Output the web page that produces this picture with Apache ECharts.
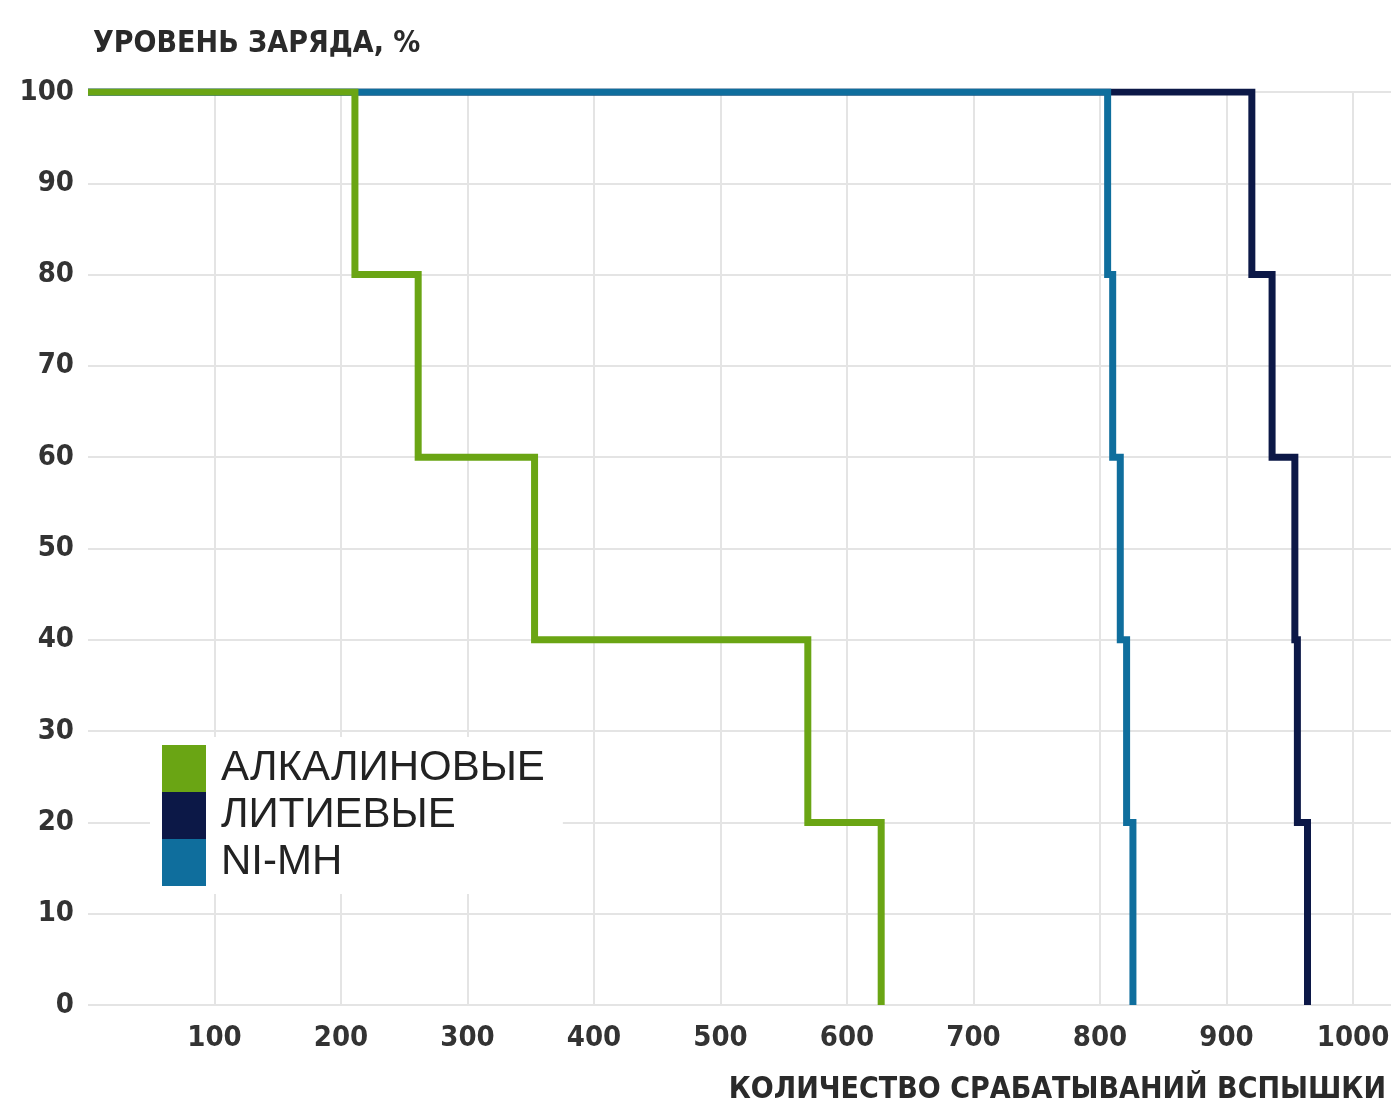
<!DOCTYPE html>
<html>
<head>
<meta charset="utf-8">
<script src="https://cdn.jsdelivr.net/npm/echarts@6/dist/echarts.min.js"></script>
<style>
html,body{margin:0;padding:0;background:#fff;}
#chart{width:1396px;height:1108px;}
</style>
</head>
<body>
<div id="chart"></div>
<script>
// ---- data ----
var seriesNames = ['АЛКАЛИНОВЫЕ', 'ЛИТИЕВЫЕ', 'NI-MH'];
// [flashes at which the level drops, new level]
var alkaline = [[0, 100], [211, 80], [261, 60], [353, 40], [569, 20], [627, 0]];
var lithium  = [[0, 100], [920, 80], [936, 60], [954, 40], [956, 20], [964, 0]];
var nimh     = [[0, 100], [806, 80], [810, 60], [816, 40], [821, 20], [826, 0]];
var xTicks = [100, 200, 300, 400, 500, 600, 700, 800, 900, 1000];
var yTitle = 'УРОВЕНЬ ЗАРЯДА, %';
var xTitle = 'КОЛИЧЕСТВО СРАБАТЫВАНИЙ ВСПЫШКИ';

var colors = {alk: '#6aa514', lit: '#0c1847', nimh: '#0f6e9d'};
var narrow = "'Liberation Sans Narrow', 'DejaVu Sans Condensed', 'Liberation Sans', sans-serif";
var gridColor = '#e4e4e4';

var chart = echarts.init(document.getElementById('chart'));
function lineSeries(name, data, color, z, extra) {
  var s = {
    name: name, type: 'line', data: data, step: 'end',
    showSymbol: false, symbol: 'none', z: z,
    lineStyle: {color: color, width: 7, join: 'miter', cap: 'butt'},
    itemStyle: {color: color},
    emphasis: {disabled: true},
    animation: false
  };
  if (extra) for (var k in extra) s[k] = extra[k];
  return s;
}
chart.setOption({
  animation: false,
  backgroundColor: '#fff',
  title: [{
    text: xTitle, right: 5, top: 1070,
    textStyle: {fontFamily: narrow, fontWeight: 'bold', fontSize: 30, color: '#2a2a2a'}
  }],
  legend: {
    data: seriesNames,
    orient: 'vertical', left: 150, top: 737,
    icon: 'rect', itemWidth: 44, itemHeight: 47, itemGap: 0,
    backgroundColor: '#fff', padding: [8, 18, 8, 12],
    selectedMode: false,
    textStyle: {fontFamily: "'Liberation Sans', Arial, sans-serif", fontSize: 42, color: '#222', padding: [0, 0, 0, 10]}
  },
  grid: {left: 88, top: 92, right: 5, bottom: 103},
  xAxis: {
    type: 'value', min: 0, max: 1030, interval: 10,
    axisLine: {show: false}, axisTick: {show: false},
    splitLine: {show: false},
    axisLabel: {
      margin: 19,
      fontFamily: narrow, fontWeight: 'bold', fontSize: 29, color: '#333',
      formatter: function (v) { return xTicks.indexOf(v) >= 0 ? String(v) : ''; }
    }
  },
  yAxis: {
    type: 'value', min: 0, max: 100, interval: 10,
    name: yTitle, nameLocation: 'end', nameGap: 48,
    nameTextStyle: {align: 'left', verticalAlign: 'middle', fontFamily: narrow, fontWeight: 'bold', fontSize: 30, color: '#2a2a2a', padding: [0, 0, 0, 5]},
    axisLine: {show: false}, axisTick: {show: false},
    splitLine: {show: true, lineStyle: {color: gridColor, width: 2}},
    axisLabel: {margin: 14, fontFamily: narrow, fontWeight: 'bold', fontSize: 29, color: '#333'}
  },
  series: [
    lineSeries(seriesNames[1], lithium, colors.lit, 2, {
      markLine: {
        silent: true, symbol: 'none', animation: false, z: 1,
        label: {show: false},
        lineStyle: {color: gridColor, width: 2, type: 'solid'},
        emphasis: {disabled: true},
        data: xTicks.map(function (v) { return {xAxis: v}; })
      }
    }),
    lineSeries(seriesNames[2], nimh, colors.nimh, 3),
    lineSeries(seriesNames[0], alkaline, colors.alk, 4)
  ]
});
</script>
</body>
</html>
